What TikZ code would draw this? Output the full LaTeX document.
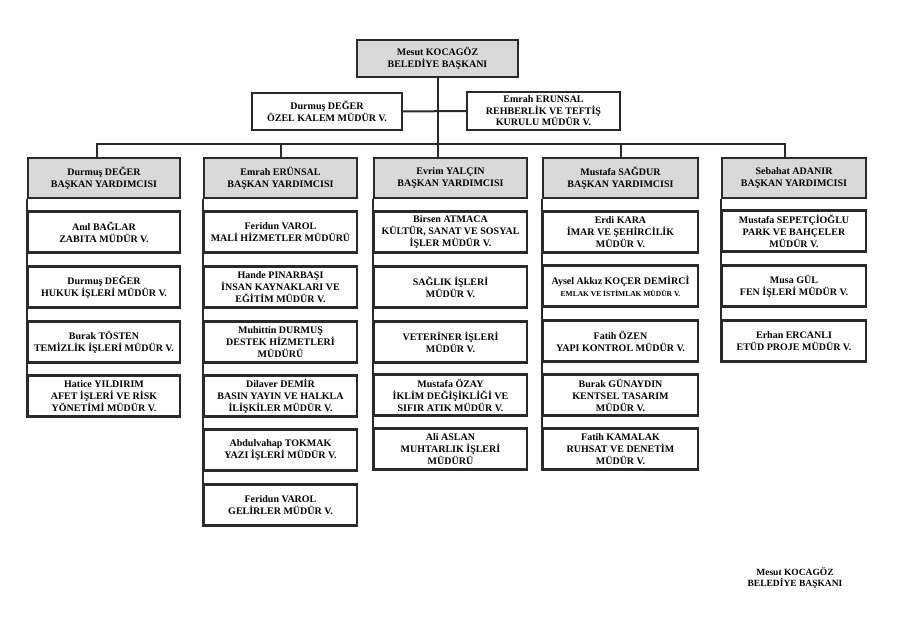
\documentclass[tikz,border=0pt]{standalone}
\usepackage{fontspec}
\setmainfont{Liberation Serif}
\usepackage{tikz}
\definecolor{boxline}{HTML}{2A2A2A}
\definecolor{headgray}{HTML}{D9D9D9}

\begin{document}
\begin{tikzpicture}[x=1pt,y=-1pt,
  unit/.style={draw=boxline, line width=2.4pt, fill=white, align=center, inner sep=1pt,
    font=\fontsize{10}{12}\selectfont\bfseries, minimum width=#1, minimum height=41pt},
  unit/.default=153pt,
  head/.style={unit=#1, fill=headgray, minimum height=40pt},
  head/.default=153pt,
  link/.style={draw=boxline, line width=2pt}]
\useasboundingbox (0,0) rectangle (900,636);

% baskan ve bagli birimler
\node[head=161pt, minimum height=37pt] (mayor) at (437.5,58.5) {Mesut KOCAGÖZ\\BELEDİYE BAŞKANI};
\node[unit=150pt, minimum height=37pt] (ozel) at (327,111.5) {Durmuş DEĞER\\ÖZEL KALEM MÜDÜR V.};
\node[unit=153pt, minimum height=38pt, font=\fontsize{10}{11.5}\selectfont\bfseries] (teftis) at (543.5,111) {Emrah ERUNSAL\\REHBERLİK VE TEFTİŞ\\KURULU MÜDÜR V.};

% baskan yardimcilari
\node[head=152pt] (h1) at (104,178) {Durmuş DEĞER\\BAŞKAN YARDIMCISI};
\node[head] (h2) at (280.5,178) {Emrah ERÜNSAL\\BAŞKAN YARDIMCISI};
\node[head] (h3) at (450.5,178) {Evrim YALÇIN\\BAŞKAN YARDIMCISI};
\node[head=155pt] (h4) at (620.5,178) {Mustafa SAĞDUR\\BAŞKAN YARDIMCISI};
\node[head=144pt] (h5) at (794,178) {Sebahat ADANIR\\BAŞKAN YARDIMCISI};

% 1. sutun
\node[unit=152pt] (zabita) at (104,232) {Anıl BAĞLAR\\ZABITA MÜDÜR V.};
\node[unit=152pt] (hukuk) at (104,287) {Durmuş DEĞER\\HUKUK İŞLERİ MÜDÜR V.};
\node[unit=152pt] (temizlik) at (104,342) {Burak TÖSTEN\\TEMİZLİK İŞLERİ MÜDÜR V.};
\node[unit=152pt] (afet) at (104,396) {Hatice YILDIRIM\\AFET İŞLERİ VE RİSK\\YÖNETİMİ MÜDÜR V.};

% 2. sutun
\node[unit] (mali) at (280.5,232) {Feridun VAROL\\MALİ HİZMETLER MÜDÜRÜ};
\node[unit] (insan) at (280.5,287) {Hande PINARBAŞI\\İNSAN KAYNAKLARI VE\\EĞİTİM MÜDÜR V.};
\node[unit] (destek) at (280.5,342) {Muhittin DURMUŞ\\DESTEK HİZMETLERİ\\MÜDÜRÜ};
\node[unit] (basin) at (280.5,396) {Dilaver DEMİR\\BASIN YAYIN VE HALKLA\\İLİŞKİLER MÜDÜR V.};
\node[unit] (yazi) at (280.5,450) {Abdulvahap TOKMAK\\YAZI İŞLERİ MÜDÜR V.};
\node[unit] (gelir) at (280.5,505) {Feridun VAROL\\GELİRLER MÜDÜR V.};

% 3. sutun
\node[unit] (kultur) at (450.5,232) {Birsen ATMACA\\KÜLTÜR, SANAT VE SOSYAL\\İŞLER MÜDÜR V.};
\node[unit] (saglik) at (450.5,287) {SAĞLIK İŞLERİ\\MÜDÜR V.};
\node[unit] (veteriner) at (450.5,342) {VETERİNER İŞLERİ\\MÜDÜR V.};
\node[unit] (iklim) at (450.5,395) {Mustafa ÖZAY\\İKLİM DEĞİŞİKLİĞİ VE\\SIFIR ATIK MÜDÜR V.};
\node[unit] (muhtarlik) at (450.5,449) {Ali ASLAN\\MUHTARLIK İŞLERİ\\MÜDÜRÜ};

% 4. sutun
\node[unit=155pt] (imar) at (620.5,232) {Erdi KARA\\İMAR VE ŞEHİRCİLİK\\MÜDÜR V.};
\node[unit=155pt] (emlak) at (620.5,286) {Aysel Akkız KOÇER DEMİRCİ\\{\fontsize{7.5}{9}\selectfont EMLAK VE İSTİMLAK MÜDÜR V.}};
\node[unit=155pt] (yapi) at (620.5,341) {Fatih ÖZEN\\YAPI KONTROL MÜDÜR V.};
\node[unit=155pt] (kentsel) at (620.5,395) {Burak GÜNAYDIN\\KENTSEL TASARIM\\MÜDÜR V.};
\node[unit=155pt] (ruhsat) at (620.5,449) {Fatih KAMALAK\\RUHSAT VE DENETİM\\MÜDÜR V.};

% 5. sutun
\node[unit=144pt] (park) at (794,231) {Mustafa SEPETÇİOĞLU\\PARK VE BAHÇELER\\MÜDÜR V.};
\node[unit=144pt] (fen) at (794,286) {Musa GÜL\\FEN İŞLERİ MÜDÜR V.};
\node[unit=144pt] (etud) at (794,341) {Erhan ERCANLI\\ETÜD PROJE MÜDÜR V.};

% baglantilar
\coordinate (bus) at (437.5,144);
\draw[link] (mayor.south) -- (mayor.south |- h3.north);
\draw[link] (ozel.east) -- (teftis.west);
\draw[link] ([xshift=-7pt]h1.north) |- (bus) -| ([xshift=-9pt]h5.north);
\draw[link] (h2.north) -- (h2.north |- bus);
\draw[link] (h4.north) -- (h4.north |- bus);
\draw[link] (h1.south west) -- (afet.south west);
\draw[link] (h2.south west) -- (gelir.south west);
\draw[link] (h3.south west) -- (muhtarlik.south west);
\draw[link] (h4.south west) -- (ruhsat.south west);
\draw[link] (h5.south west) -- (etud.south west);

% imza
\node[align=center, font=\fontsize{9.5}{11.5}\selectfont\bfseries] (imza) at (795,578) {Mesut KOCAGÖZ\\BELEDİYE BAŞKANI};
\end{tikzpicture}
\end{document}
